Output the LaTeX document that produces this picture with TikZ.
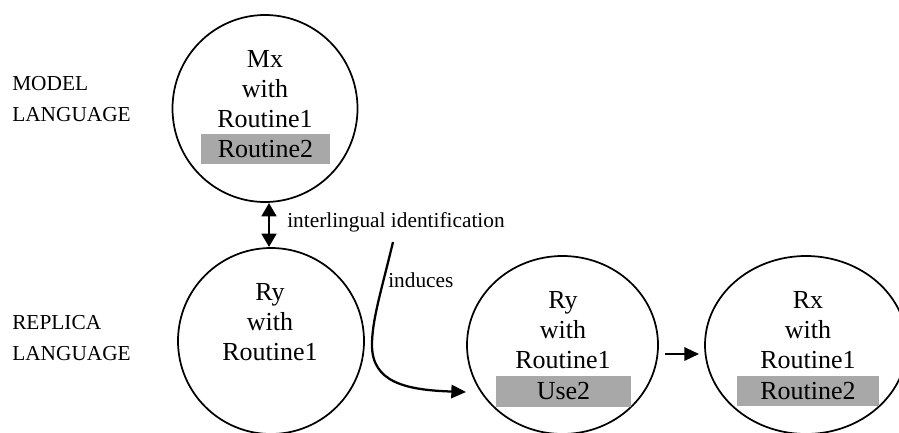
\documentclass[tikz,border=0pt]{standalone}
\usepackage{fontspec}
\setmainfont{Liberation Serif}
\usetikzlibrary{shapes.geometric,arrows.meta,calc}
\definecolor{barg}{RGB}{168,168,168}
\begin{document}
\begin{tikzpicture}[x=0.75pt,y=-0.75pt,
  oval/.style={ellipse,draw,line width=1.3pt,inner sep=0pt,outer sep=0pt},
  big/.style={font=\fontsize{19.5}{22}\selectfont,inner sep=0pt,anchor=base},
  lab/.style={font=\fontsize{16}{19}\selectfont,inner sep=0pt,anchor=base west},
  bar/.style={fill=barg,inner sep=0pt,font=\fontsize{19.5}{22}\selectfont},
  arr/.style={line width=1.7pt,-{Triangle[length=11pt,width=10pt]}},
  dbl/.style={line width=2pt,{Triangle[length=10pt,width=11pt]}-{Triangle[length=10pt,width=11pt]}}
]
\useasboundingbox (0,0) rectangle (899,432);
% left labels
\node[lab] (l1) at (12,90) {MODEL};
\node[lab] (l2) at (12,121) {LANGUAGE};
\node[lab] (l3) at (12,329) {REPLICA};
\node[lab] (l4) at (12,360) {LANGUAGE};
% ellipses
\node[oval,minimum width=138.75pt,minimum height=140.25pt] (mx) at (265,108.5) {};
\node[oval,minimum width=139.5pt,minimum height=139.5pt] (ry1) at (271,341) {};
\node[oval,minimum width=143.25pt,minimum height=133.5pt] (ry2) at (562.5,345) {};
\node[oval,minimum width=151.5pt,minimum height=133.5pt] (rx) at (806,345) {};
% Mx text
\node[big] (mx1) at (265,67) {Mx};
\node[big] (mx2) at (265,97) {with};
\node[big] (mx3) at (265,127) {Routine1};
\node[bar,minimum width=96.75pt,minimum height=22.5pt] (mx4) at (265.5,149) {Routine2};
% Ry1 text
\node[big] (ra1) at (270,300) {Ry};
\node[big] (ra2) at (270,330) {with};
\node[big] (ra3) at (270,360) {Routine1};
% Ry2 text
\node[big] (rb1) at (563,308) {Ry};
\node[big] (rb2) at (563,338) {with};
\node[big] (rb3) at (563,368) {Routine1};
\node[bar,minimum width=101.25pt,minimum height=23.25pt] (rb4) at (563.5,391.5) {Use2};
% Rx text
\node[big] (rc1) at (808,308) {Rx};
\node[big] (rc2) at (808,338) {with};
\node[big] (rc3) at (808,368) {Routine1};
\node[bar,minimum width=106.5pt,minimum height=22.5pt] (rc4) at (808,391) {Routine2};
% connectors
\draw[dbl] ($(mx.south)+(4,1)$) -- ($(ry1.north)+(-2,-1)$);
\node[lab] (ii) at (287,227) {interlingual identification};
\coordinate (indstart) at (393,242);
\coordinate (indend) at (466,392);
\draw[arr] (indstart) .. controls (381,292) and (372,320) .. (372,345)
  .. controls (372,382) and (405,390) .. (indend);
\node[lab] (ind) at (388,287) {induces};
\draw[arr] ($(ry2.east)+(7,9)$) -- ($(rx.west)+(-6,9)$);
\end{tikzpicture}
\end{document}
